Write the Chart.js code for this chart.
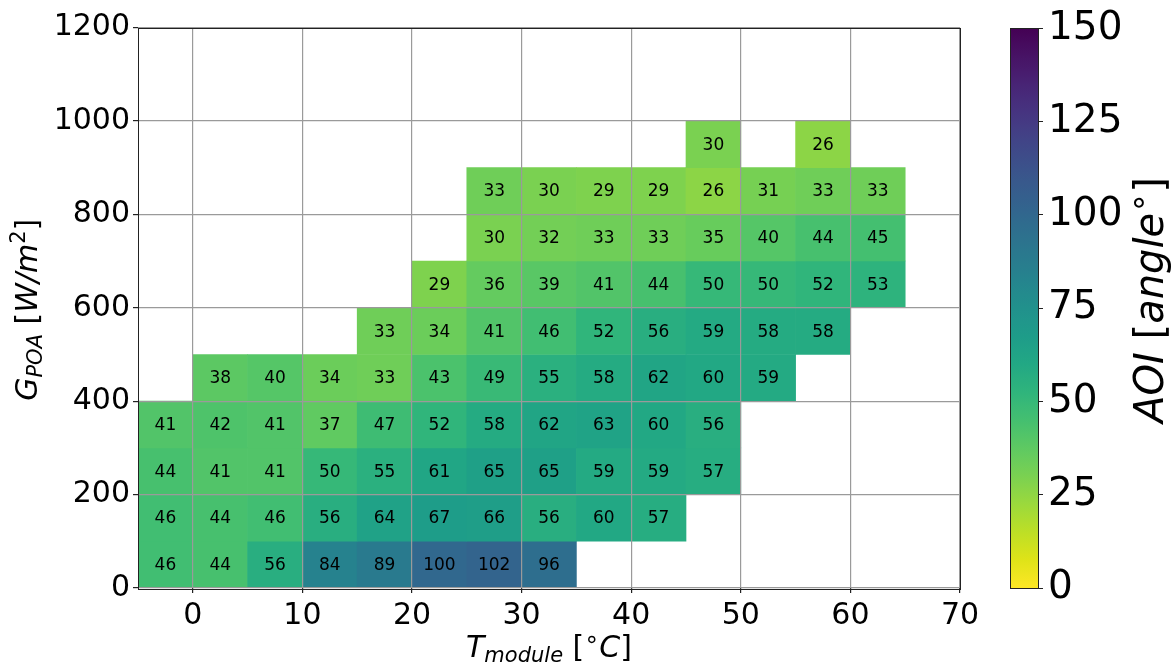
<!DOCTYPE html>
<html>
<head>
<meta charset="utf-8">
<title>AOI heatmap</title>
<script src="https://cdn.jsdelivr.net/npm/chart.js@4.4.0/dist/chart.umd.min.js"></script>
<style>
    html, body { margin: 0; padding: 0; background: #fff; }
    #wrap { position: relative; width: 1176px; height: 664px; }
    #wrap canvas { position: absolute; left: 0; top: 0; }
</style>
</head>
<body>
<div id="wrap">
    <canvas id="heatmapChart" width="1176" height="664"></canvas>
    <canvas id="colorbarChart" width="1176" height="664"></canvas>
</div>
<script>
// lower edges of the temperature bins (°C), 5 wide
const tempBins = [-5, 0, 5, 10, 15, 20, 25, 30, 35, 40, 45, 50, 55, 60, 65];
// lower edges of the irradiance bins (W/m2), 100 tall
const irrBins = [0, 100, 200, 300, 400, 500, 600, 700, 800, 900];

// mean AOI per cell, one row per irradiance bin, one column per temperature bin
const aoi0   = [46, 44, 56, 84, 89, 100, 102, 96, null, null, null, null, null, null, null];
const aoi100 = [46, 44, 46, 56, 64, 67, 66, 56, 60, 57, null, null, null, null, null];
const aoi200 = [44, 41, 41, 50, 55, 61, 65, 65, 59, 59, 57, null, null, null, null];
const aoi300 = [41, 42, 41, 37, 47, 52, 58, 62, 63, 60, 56, null, null, null, null];
const aoi400 = [null, 38, 40, 34, 33, 43, 49, 55, 58, 62, 60, 59, null, null, null];
const aoi500 = [null, null, null, null, 33, 34, 41, 46, 52, 56, 59, 58, 58, null, null];
const aoi600 = [null, null, null, null, null, 29, 36, 39, 41, 44, 50, 50, 52, 53, null];
const aoi700 = [null, null, null, null, null, null, 30, 32, 33, 33, 35, 40, 44, 45, null];
const aoi800 = [null, null, null, null, null, null, 33, 30, 29, 29, 26, 31, 33, 33, null];
const aoi900 = [null, null, null, null, null, null, null, null, null, null, 30, null, 26, null, null];
const aoiRows = [aoi0, aoi100, aoi200, aoi300, aoi400, aoi500, aoi600, aoi700, aoi800, aoi900];

const xTicks = [0, 10, 20, 30, 40, 50, 60, 70];
const yTicks = [0, 200, 400, 600, 800, 1000, 1200];
const cbarTicks = [0, 25, 50, 75, 100, 125, 150];

const FONT = 'DejaVu Sans';
Chart.defaults.font.family = FONT;
Chart.defaults.color = '#000';

// viridis, sampled every 0.05
const viridis = [
    '#440154', '#471365', '#482475', '#463480', '#414487', '#3b528b', '#355f8d',
    '#2f6c8e', '#2a788e', '#25848e', '#21918c', '#1e9c89', '#22a884', '#2fb47c',
    '#44bf70', '#5ec962', '#7ad151', '#9bd93c', '#bddf26', '#dfe318', '#fde725'
];

function hexRgb(h) {
    return [parseInt(h.slice(1, 3), 16), parseInt(h.slice(3, 5), 16), parseInt(h.slice(5, 7), 16)];
}

function viridisAt(t) {
    t = Math.min(1, Math.max(0, t));
    const pos = t * (viridis.length - 1);
    const i = Math.min(Math.floor(pos), viridis.length - 2);
    const f = pos - i;
    const a = hexRgb(viridis[i]);
    const b = hexRgb(viridis[i + 1]);
    const c = a.map((v, k) => Math.round(v + (b[k] - v) * f));
    return `rgb(${c[0]}, ${c[1]}, ${c[2]})`;
}

// reversed colormap: 0 -> yellow, 150 -> purple
function aoiColor(v) {
    return viridisAt(1 - v / 150);
}

// draws a run of text pieces (for sub/superscripts) centred on cx, baseline at cy
function drawRich(ctx, parts, cx, cy, rotate) {
    ctx.save();
    ctx.translate(cx, cy);
    if (rotate) ctx.rotate(-Math.PI / 2);
    ctx.textAlign = 'left';
    ctx.textBaseline = 'alphabetic';
    ctx.fillStyle = '#000';
    let total = 0;
    parts.forEach(p => {
        ctx.font = p.font;
        p.w = ctx.measureText(p.text).width;
        total += p.w;
    });
    let x = -total / 2;
    parts.forEach(p => {
        ctx.font = p.font;
        ctx.fillText(p.text, x, p.dy || 0);
        x += p.w;
    });
    ctx.restore();
}

document.addEventListener('DOMContentLoaded', () => {
    initHeatmap();
    initColorbar();
});

function initHeatmap() {
    const cells = [];
    aoiRows.forEach((row, r) => {
        row.forEach((v, c) => {
            if (v === null) return;
            cells.push({ x: tempBins[c] + 2.5, y: [irrBins[r], irrBins[r] + 100], v: v });
        });
    });

    const cellLabels = {
        id: 'cellLabels',
        afterDatasetsDraw(chart) {
            const ctx = chart.ctx;
            const meta = chart.getDatasetMeta(0);
            ctx.save();
            ctx.font = `17px "${FONT}"`;
            ctx.fillStyle = '#000';
            ctx.textAlign = 'center';
            ctx.textBaseline = 'middle';
            meta.data.forEach((bar, i) => {
                const p = bar.getProps(['x', 'y', 'base'], true);
                ctx.fillText(String(cells[i].v), p.x, (p.y + p.base) / 2 + 1);
            });
            ctx.restore();
        }
    };

    const frameAndTitles = {
        id: 'frameAndTitles',
        afterDraw(chart) {
            const ctx = chart.ctx;
            const a = chart.chartArea;
            ctx.save();
            ctx.strokeStyle = '#222';
            ctx.lineWidth = 1;
            ctx.strokeRect(Math.round(a.left) + 0.5, Math.round(a.top) + 0.5,
                Math.round(a.right - a.left), Math.round(a.bottom - a.top));
            ctx.restore();

            const it = s => `italic ${s}px "${FONT}"`;
            const up = s => `${s}px "${FONT}"`;
            drawRich(ctx, [
                { text: 'T', font: it(30) },
                { text: 'module', font: it(21), dy: 5 },
                { text: ' [', font: up(30) },
                { text: '∘', font: up(24), dy: -10 },
                { text: 'C', font: it(30) },
                { text: ']', font: up(30) }
            ], (a.left + a.right) / 2, 657, false);

            drawRich(ctx, [
                { text: 'G', font: it(30) },
                { text: 'POA', font: it(21), dy: 5 },
                { text: ' [', font: up(30) },
                { text: 'W/m', font: it(30) },
                { text: '2', font: up(21), dy: -12 },
                { text: ']', font: up(30) }
            ], 37, (a.top + a.bottom) / 2 + 2, true);
        }
    };

    const ctx = document.getElementById('heatmapChart');
    new Chart(ctx, {
        type: 'bar',
        data: {
            datasets: [{
                data: cells,
                backgroundColor: c => aoiColor(c.raw.v),
                borderWidth: 0,
                barPercentage: 1,
                categoryPercentage: 1,
                grouped: false
            }]
        },
        options: {
            responsive: false,
            animation: false,
            layout: { padding: { left: 0, top: 27.5, right: 216, bottom: 0 } },
            plugins: {
                legend: { display: false },
                tooltip: { enabled: false }
            },
            scales: {
                x: {
                    type: 'linear',
                    min: -5,
                    max: 70,
                    offset: false,
                    afterBuildTicks: s => { s.ticks = xTicks.map(v => ({ value: v })); },
                    afterFit: s => { s.height = 76; },
                    grid: { offset: false, color: '#9a9a9a', lineWidth: 1.2, tickColor: '#222', tickLength: 5, z: 1 },
                    border: { display: false },
                    ticks: { font: { size: 30 }, padding: 5, maxRotation: 0, color: '#000', callback: v => String(v) }
                },
                y: {
                    type: 'linear',
                    min: 0,
                    max: 1200,
                    afterBuildTicks: s => { s.ticks = yTicks.map(v => ({ value: v })); },
                    afterFit: s => { s.width = 138; },
                    grid: { color: '#9a9a9a', lineWidth: 1.2, tickColor: '#222', tickLength: 5, z: 1 },
                    border: { display: false },
                    ticks: { font: { size: 30 }, padding: 3, color: '#000', callback: v => String(v) }
                }
            }
        },
        plugins: [cellLabels, frameAndTitles]
    });
}

function initColorbar() {
    const gradientBar = {
        id: 'gradientBar',
        beforeDatasetsDraw(chart) {
            const ctx = chart.ctx;
            const a = chart.chartArea;
            const ys = chart.scales.y;
            const y0 = ys.getPixelForValue(cbarTicks[0]);
            const y1 = ys.getPixelForValue(cbarTicks[cbarTicks.length - 1]);
            const g = ctx.createLinearGradient(0, y0, 0, y1);
            for (let k = 0; k <= 40; k++) {
                g.addColorStop(k / 40, aoiColor(k / 40 * 150));
            }
            ctx.save();
            ctx.fillStyle = g;
            ctx.fillRect(a.left, y1, a.right - a.left, y0 - y1);
            ctx.strokeStyle = '#222';
            ctx.lineWidth = 1;
            ctx.strokeRect(Math.round(a.left) + 0.5, Math.round(y1) + 0.5,
                Math.round(a.right - a.left), Math.round(y0 - y1));
            ctx.restore();
        },
        afterDraw(chart) {
            const it = s => `italic ${s}px "${FONT}"`;
            const up = s => `${s}px "${FONT}"`;
            drawRich(chart.ctx, [
                { text: 'AOI', font: it(40) },
                { text: ' [', font: up(40) },
                { text: 'angle', font: it(40) },
                { text: '∘', font: up(32), dy: -14 },
                { text: ']', font: up(40) }
            ], 1163, 300, true);
        }
    };

    const ctx = document.getElementById('colorbarChart');
    new Chart(ctx, {
        type: 'bar',
        data: { datasets: [] },
        options: {
            responsive: false,
            animation: false,
            layout: { padding: { left: 1010, top: 27.5, right: 0, bottom: 76 } },
            plugins: {
                legend: { display: false },
                tooltip: { enabled: false }
            },
            scales: {
                x: { display: false },
                y: {
                    type: 'linear',
                    position: 'right',
                    min: 0,
                    max: 150,
                    afterBuildTicks: s => { s.ticks = cbarTicks.map(v => ({ value: v })); },
                    afterFit: s => { s.width = 138; },
                    grid: { drawOnChartArea: false, tickColor: '#222', tickLength: 5 },
                    border: { display: false },
                    ticks: { font: { size: 39 }, padding: 5, color: '#000', callback: v => String(v) }
                }
            }
        },
        plugins: [gradientBar]
    });
}
</script>
</body>
</html>
